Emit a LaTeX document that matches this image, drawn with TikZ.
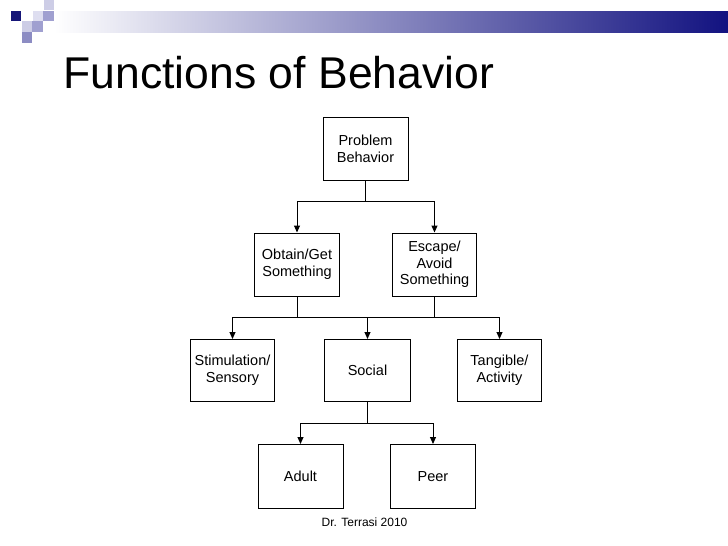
\documentclass[tikz,border=0pt]{standalone}
\usepackage{fontspec}
\setmainfont{Liberation Sans}
\usetikzlibrary{arrows.meta}
\definecolor{navybar}{RGB}{18,18,128}
\definecolor{sqnavy}{RGB}{22,22,120}
\definecolor{sqlight}{RGB}{205,205,230}
\definecolor{sqpale}{RGB}{222,222,240}
\definecolor{sqmid}{RGB}{160,160,208}
\definecolor{sqdark}{RGB}{140,140,195}
\tikzset{
  box/.style={draw=black, line width=1pt, minimum width=85pt, minimum height=63pt,
    inner sep=1pt, align=center, font=\fontsize{14.5}{16.7}\selectfont},
  conn/.style={line width=1pt, black},
  arr/.style={conn, -{Triangle[width=6pt,length=7pt]}}
}
\begin{document}
\begin{tikzpicture}[x=1pt,y=-1pt]
\useasboundingbox (0,0) rectangle (728,546);
\fill[white] (0,0) rectangle (728,546);
% header decoration
\shade[left color=white, right color=navybar] (54,11) rectangle (728,32);
\fill[sqnavy] (11,11) rectangle (21,21);
\fill[sqlight] (44,0) rectangle (54,10);
\fill[sqpale] (33,11) rectangle (43,21);
\fill[sqmid] (43,11) rectangle (54,21);
\fill[sqlight] (22,21) rectangle (32,32);
\fill[sqmid] (32,21) rectangle (43,32);
\fill[sqdark] (22,32) rectangle (32,43);
% title
\node[anchor=base west, inner sep=0pt, font=\fontsize{44.5}{50}\selectfont] (title) at (63.5,88) {Functions of Behavior};
% boxes
\node[box] (prob) at (365.5,148.5) {Problem\\Behavior};
\node[box] (obt) at (297,264.5) {Obtain/Get\\Something};
\node[box, minimum width=84pt] (esc) at (434.5,264.5) {Escape/\\Avoid\\Something};
\node[box, minimum width=84pt, minimum height=62pt] (stim) at (232.5,370.5) {Stimulation/\\Sensory};
\node[box, minimum width=86pt, minimum height=62pt] (soc) at (367.5,370.5) {Social};
\node[box, minimum width=84pt, minimum height=62pt] (tang) at (499.5,370.5) {Tangible/\\Activity};
\node[box, minimum height=64pt] (adult) at (300.5,476.5) {Adult};
\node[box, minimum height=64pt] (peer) at (433,476.5) {Peer};
% junctions
\coordinate (j1) at (365.5,201.5);
\coordinate (j2) at (365.5,317.5);
\coordinate (j3) at (367.5,423.5);
% level 1
\draw[conn] (prob.south) -- (j1);
\draw[arr] (j1) -| (obt.north);
\draw[arr] (j1) -| (esc.north);
% level 2
\draw[conn] (obt.south) -- (obt.south |- j2);
\draw[conn] (esc.south) -- (esc.south |- j2);
\draw[arr] (obt.south |- j2) -| (stim.north);
\draw[arr] (esc.south |- j2) -| (tang.north);
\draw[conn] (obt.south |- j2) -- (esc.south |- j2);
\draw[arr] (soc.north |- j2) -- (soc.north);
% level 3
\draw[conn] (soc.south) -- (j3);
\draw[arr] (j3) -| (adult.north);
\draw[arr] (j3) -| (peer.north);
% footer
\node[font=\fontsize{12}{14}\selectfont, inner sep=0pt] (foot) at (364.5,522) {Dr. Terrasi 2010};
\end{tikzpicture}
\end{document}
